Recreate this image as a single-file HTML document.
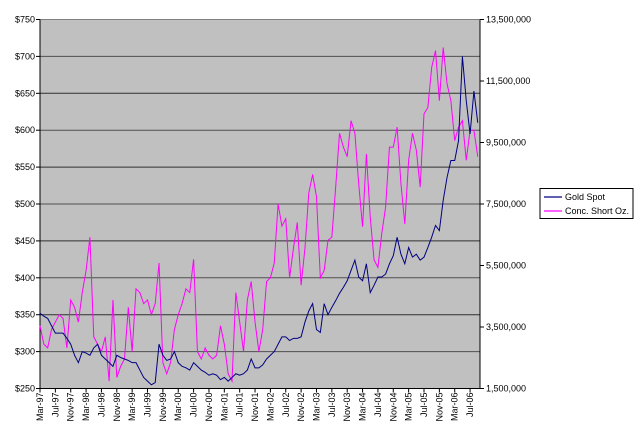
<!DOCTYPE html>
<html><head><meta charset="utf-8"><style>
html,body{margin:0;padding:0;background:#fff;}
svg{display:block;font-family:"Liberation Sans",Arial,sans-serif;}
</style></head><body>
<svg id="chart" width="640" height="438" viewBox="0 0 640 438">
<rect x="40" y="19.5" width="440" height="369" fill="#c0c0c0" stroke="#808080"/>
<g id="grid"></g>
<g id="axes"></g>
<g id="series"></g>
<g>
<rect x="540" y="188.5" width="93" height="30" fill="#fff" stroke="#000"/>
<line x1="544" y1="197" x2="562" y2="197" stroke="#000080" stroke-width="1.2"/>
<text x="565" y="200" font-size="9" fill="#000">Gold Spot</text>
<line x1="544" y1="211" x2="562" y2="211" stroke="#ff00ff" stroke-width="1.2"/>
<text x="565" y="214" font-size="9" fill="#000">Conc. Short Oz.</text>
</g>
</svg>
<script>
const xLabels=["Mar-97","Jul-97","Nov-97","Mar-98","Jul-98","Nov-98","Mar-99","Jul-99","Nov-99","Mar-00","Jul-00","Nov-00","Mar-01","Jul-01","Nov-01","Mar-02","Jul-02","Nov-02","Mar-03","Jul-03","Nov-03","Mar-04","Jul-04","Nov-04","Mar-05","Jul-05","Nov-05","Mar-06","Jul-06"];
const leftTicks=[250,300,350,400,450,500,550,600,650,700,750];
const rightTicks=[1.5,3.5,5.5,7.5,9.5,11.5,13.5];
const goldSpot=[352,348,345,335,325,325,325,318,310,295,285,300,298,295,305,310,295,290,285,280,295,292,290,288,285,285,275,265,260,255,258,310,295,288,290,300,285,280,278,275,285,280,275,272,268,270,268,262,265,260,265,270,268,270,275,290,278,278,282,290,295,300,310,320,320,315,318,318,320,340,355,365,330,326,365,350,360,369,379,387,396,410,424,401,396,419,380,390,401,401,405,419,430,455,432,419,441,428,432,424,428,441,455,471,464,505,536,559,559,586,700,640,595,653,610];
const shortOz=[3.54,2.94,2.82,3.42,3.66,3.9,3.78,2.82,4.38,4.14,3.66,4.62,5.34,6.42,3.18,2.94,2.7,3.18,1.74,4.38,1.86,2.22,2.46,4.14,2.7,4.74,4.62,4.26,4.38,3.9,4.26,5.58,2.34,1.98,2.34,3.42,3.9,4.26,4.74,4.62,5.7,2.7,2.46,2.82,2.58,2.46,2.58,3.54,2.94,1.98,1.74,4.62,3.66,2.7,4.38,4.98,3.66,2.7,3.42,4.98,5.1,5.58,7.5,6.78,7.02,5.1,6.06,6.9,4.86,6.06,7.86,8.46,7.74,5.1,5.34,6.32,6.42,8.05,9.8,9.35,9.04,10.21,9.8,8.15,6.76,9.13,7.07,5.68,5.44,6.54,7.4,9.35,9.35,10.0,8.15,6.85,8.92,9.8,9.25,8.05,10.43,10.64,11.94,12.49,10.86,12.59,11.41,10.86,9.56,10.0,10.21,8.92,9.9,9.9,9.04];
const NS="http://www.w3.org/2000/svg";
const X0=40,MONTH=3.84,TOP=19.5,BOT=388.5;
function xm(i){return X0+MONTH*i;}
function yl(v){return BOT-(v-250)/500*(BOT-TOP);}
function yr(v){return BOT-(v-1.5)/12*(BOT-TOP);}
function mk(tag,attrs,parent){const e=document.createElementNS(NS,tag);for(const k in attrs)e.setAttribute(k,attrs[k]);parent.appendChild(e);return e;}
const grid=document.getElementById('grid'),axes=document.getElementById('axes'),series=document.getElementById('series');
leftTicks.forEach((v,i)=>{
  const y=yl(v);
  if(i>0&&i<leftTicks.length-1){const g=mk('line',{x1:X0,x2:480,y1:y,y2:y,stroke:(i%2?'#505050':'#303030'),'stroke-width':1},grid);
  
  }
  const t=mk('line',{x1:36,x2:40,y1:y,y2:y,stroke:'#000'},axes);
  
  
  const tx=mk('text',{x:35,y:y+3,'font-size':9,'text-anchor':'end',fill:'#000'},axes);
  tx.textContent='$'+v;
  
  
});
rightTicks.forEach(v=>{
  const y=yr(v);
  const t=mk('line',{x1:480,x2:484,y1:y,y2:y,stroke:'#000'},axes);
  
  
  const tx=mk('text',{x:486,y:y+3,'font-size':9,fill:'#000'},axes);
  tx.textContent=Math.round(v*1e6).toLocaleString('en-US');
  
  
});
xLabels.forEach((l,i)=>{
  const x=xm(i*4);
  const t=mk('line',{x1:x,x2:x,y1:BOT,y2:BOT+4,stroke:'#000'},axes);
  
  
  const tx=mk('text',{x:0,y:0,'font-size':9,'text-anchor':'end',fill:'#000',transform:`translate(${x+3},${BOT+4}) rotate(-90)`},axes);
  tx.textContent=l;
  
  
});
const ax=mk('path',{d:`M${X0},${TOP}V${BOT}H480V${TOP}`,fill:'none',stroke:'#000'},axes);


const ps=mk('polyline',{points:shortOz.map((v,i)=>xm(i)+','+yr(v)).join(' '),fill:'none',stroke:'#ff00ff','stroke-width':1},series);


const pg=mk('polyline',{points:goldSpot.map((v,i)=>xm(i)+','+yl(v)).join(' '),fill:'none',stroke:'#000080','stroke-width':1},series);


</script>
</body></html>
